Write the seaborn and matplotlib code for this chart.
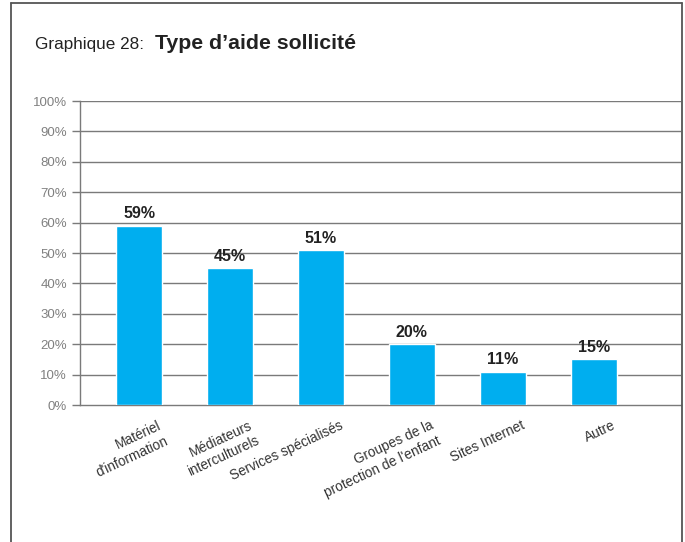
import matplotlib
matplotlib.use("Agg")
import matplotlib.pyplot as plt
import matplotlib.transforms as mtransforms
from matplotlib.lines import Line2D
import seaborn as sns
import pandas as pd

categories = ["Matériel\nd'information", "Médiateurs\ninterculturels", "Services spécialisés",
              "Groupes de la\nprotection de l'enfant", "Sites Internet", "Autre"]
values = [59, 45, 51, 20, 11, 15]
ytick_values = [0, 10, 20, 30, 40, 50, 60, 70, 80, 90, 100]
ytick_labels = [f"{v}%" for v in ytick_values]
bar_labels = [f"{v}%" for v in values]

sns.set_theme(style="white")
plt.rcParams['font.family'] = ['Liberation Sans', 'DejaVu Sans']

W, H = 685, 542
fig = plt.figure(figsize=(W / 100, H / 100), dpi=100)
ax = fig.add_axes([80 / W, 1 - 405 / H, (681 - 80) / W, (405 - 101) / H])

df = pd.DataFrame({"cat": categories, "val": values})
sns.barplot(data=df, x="cat", y="val", color="#00AEEF", saturation=1, width=0.505, ax=ax, zorder=3)

ax.set_ylim(0, 100)
ax.set_xlim(-0.65, 5.96)
ax.set_yticks(ytick_values)
ax.set_yticklabels(ytick_labels)
ax.set_xlabel("")
ax.set_ylabel("")

gray = "#7a7a7a"
for v in ytick_values[1:]:
    ax.axhline(v, color=gray, lw=1.0, zorder=1)
for s in ["top", "right"]:
    ax.spines[s].set_visible(False)
ax.spines["left"].set_color(gray)
ax.spines["bottom"].set_color(gray)
ax.spines["left"].set_linewidth(1.0)
ax.spines["bottom"].set_linewidth(1.0)

ax.tick_params(axis="y", length=5.8, width=1.0, color=gray, labelcolor="#808080",
               labelsize=9.5, pad=3.5, left=True)
ax.tick_params(axis="x", length=0, pad=9.5, labelsize=9.8, labelcolor="#333333")

offset = mtransforms.ScaledTranslation(18 / 100, 0, fig.dpi_scale_trans)
for lab in ax.get_xticklabels():
    lab.set_rotation(25)
    lab.set_ha("right")
    lab.set_va("top")
    lab.set_rotation_mode("anchor")
    lab.set_multialignment("right")
    lab.set_linespacing(1.3)
    lab.set_transform(lab.get_transform() + offset)

for cont in ax.containers:
    ax.bar_label(cont, labels=bar_labels, padding=3, fontsize=11.5, fontweight="bold", color="#222222")

# frame around figure
fc = "#555555"
fig.add_artist(Line2D([10.5 / W, 10.5 / W], [0, 1 - 3 / H], color=fc, lw=1.3, transform=fig.transFigure))
fig.add_artist(Line2D([10.5 / W, 681.5 / W], [1 - 3 / H, 1 - 3 / H], color=fc, lw=1.3, transform=fig.transFigure))
fig.add_artist(Line2D([681.5 / W, 681.5 / W], [0, 1 - 3 / H], color=fc, lw=1.3, transform=fig.transFigure))

fig.text(35 / W, 1 - 49 / H, "Graphique 28:", fontsize=12.3, color="#222222", va="baseline", ha="left")
fig.text(155 / W, 1 - 49 / H, "Type d\u2019aide sollicité", fontsize=15.3, fontweight="bold",
         color="#222222", va="baseline", ha="left")

fig.savefig("out.png", dpi=100)
